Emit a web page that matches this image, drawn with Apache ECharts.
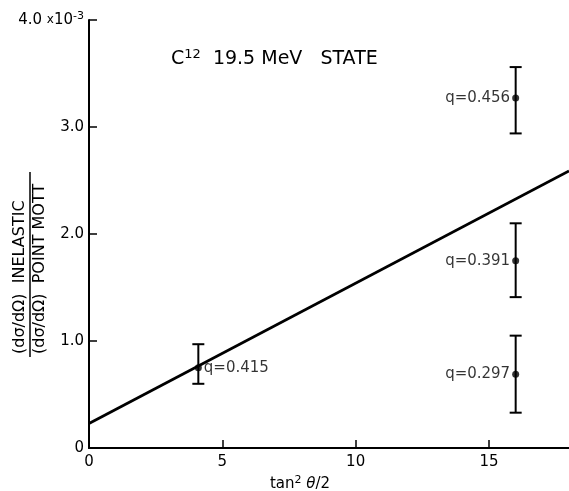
<!DOCTYPE html>
<html><head><meta charset="utf-8">
<script src="https://cdn.jsdelivr.net/npm/echarts@6/dist/echarts.min.js"></script>
<style>html,body{margin:0;padding:0;background:#fff}#c{width:569px;height:491px}</style>
</head><body><div id="c"></div>
<script>
// Data (y values in units of 1e-3)
const pointX = [4.1, 16, 16, 16];
const pointY = [0.75, 3.27, 1.75, 0.69];
const errLow = [0.60, 2.94, 1.41, 0.33];
const errHigh = [0.97, 3.56, 2.10, 1.05];
const pointLabels = ['q=0.415', 'q=0.456', 'q=0.391', 'q=0.297'];
const labelSide = ['right', 'left', 'left', 'left'];
const fitX = [0, 18];
const fitY = [0.23, 2.59];
const xTicks = [0, 5, 10, 15];
const yTicks = [0, 1, 2, 3, 4];

const FONT = 'DejaVu Sans';
const chart = echarts.init(document.getElementById('c'));
chart.setOption({
  animation: false,
  backgroundColor: '#fff',
  textStyle: {fontFamily: FONT, color: '#000'},
  title: {
    text: 'C{sup|12}  19.5 MeV   STATE',
    left: 166, top: 43,
    textStyle: {fontFamily: FONT, fontSize: 19, fontWeight: 'normal', color: '#000',
      rich: {sup: {fontSize: 13, verticalAlign: 'top', padding: [0, 0, 10, 0], fontFamily: FONT, color: '#000'}}}
  },
  grid: {left: 89, right: 0, top: 20, bottom: 43, outerBoundsMode: 'none', containLabel: false},
  xAxis: [{
    type: 'value', min: 0, max: 18, interval: 5,
    axisLine: {show: true, onZero: false, lineStyle: {color: '#000', width: 2}},
    axisTick: {show: true, inside: true, length: 8, lineStyle: {color: '#000', width: 1.5}},
    splitLine: {show: false},
    axisLabel: {fontFamily: FONT, fontSize: 15, color: '#000', margin: 7, showMaxLabel: false,
      formatter: v => xTicks.includes(v) ? String(v) : ''},
    name: 'tan{sup|2} {it|θ}/2', nameLocation: 'middle', nameGap: 23,
    nameTextStyle: {fontFamily: FONT, fontSize: 15, color: '#000', padding: [0, 58, 0, 0],
      rich: {sup: {fontSize: 11, verticalAlign: 'top', padding: [0, 0, 8, 0], color: '#000', fontFamily: FONT},
             it: {fontStyle: 'italic', fontSize: 15, color: '#000', fontFamily: FONT}}}
  }, {
    type: 'value', position: 'top', min: 0, max: 18,
    axisLine: {show: true, lineStyle: {color: '#000', width: 1.5}},
    axisTick: {show: false}, axisLabel: {show: false}, splitLine: {show: false}
  }],
  yAxis: {
    type: 'value', min: 0, max: 4, interval: 1,
    axisLine: {show: true, onZero: false, lineStyle: {color: '#000', width: 2}},
    axisTick: {show: true, inside: true, length: 8, lineStyle: {color: '#000', width: 1.5}},
    splitLine: {show: false},
    axisLabel: {fontFamily: FONT, fontSize: 15, color: '#000', margin: 5,
      formatter: v => v === 0 ? '0' : (v === 4 ? '4.0 {s|x}10{sup|-3}' : v.toFixed(1)),
      rich: {sup: {fontSize: 11, verticalAlign: 'top', padding: [0, 0, 8, 0], color: '#000', fontFamily: FONT},
             s: {fontSize: 12, color: '#000', fontFamily: FONT}}}
  },
  graphic: [
    {type: 'text', x: 28, y: 354, rotation: Math.PI / 2,
      style: {text: '(dσ/dΩ)  INELASTIC', font: '16px "DejaVu Sans"', fill: '#000', textAlign: 'left', textVerticalAlign: 'bottom'}},
    {type: 'line', shape: {x1: 30, y1: 172, x2: 30, y2: 357}, style: {stroke: '#000', lineWidth: 1.5}},
    {type: 'text', x: 32, y: 354, rotation: Math.PI / 2,
      style: {text: '(dσ/dΩ)  POINT MOTT', font: '16px "DejaVu Sans"', fill: '#000', textAlign: 'left', textVerticalAlign: 'top'}}
  ],
  series: [{
    type: 'line', data: fitX.map((x, i) => [x, fitY[i]]),
    symbol: 'none', lineStyle: {color: '#000', width: 2.8}, z: 2
  }, {
    type: 'custom',
    data: pointX.map((x, i) => [x, errLow[i], errHigh[i]]),
    renderItem: (params, api) => {
      const lo = api.coord([api.value(0), api.value(1)]);
      const hi = api.coord([api.value(0), api.value(2)]);
      const w = 6;
      const st = {stroke: '#000', lineWidth: 2};
      return {type: 'group', children: [
        {type: 'line', shape: {x1: lo[0], y1: lo[1], x2: hi[0], y2: hi[1]}, style: st},
        {type: 'line', shape: {x1: lo[0] - w, y1: lo[1], x2: lo[0] + w, y2: lo[1]}, style: st},
        {type: 'line', shape: {x1: hi[0] - w, y1: hi[1], x2: hi[0] + w, y2: hi[1]}, style: st}
      ]};
    }, z: 3
  }, {
    type: 'scatter',
    data: pointX.map((x, i) => ({value: [x, pointY[i]],
      label: {show: true, position: labelSide[i], formatter: pointLabels[i], distance: 2,
        color: '#000', fontFamily: FONT, fontSize: 15}})),
    symbol: 'circle', symbolSize: 7, itemStyle: {color: '#000'}, z: 4
  }]
});
</script></body></html>
